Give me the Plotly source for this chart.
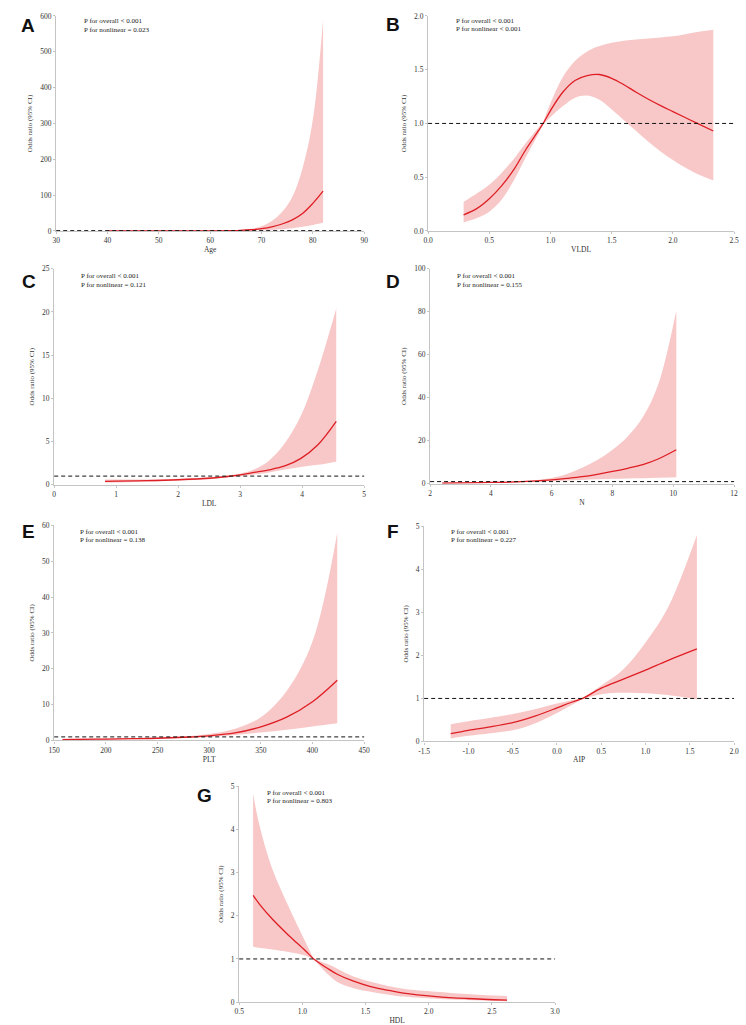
import plotly.graph_objects as go

W, H = 746, 1025

# ---------------- data ----------------
age_x = [40, 44, 48, 52, 56, 60, 62, 64, 66, 68, 70, 72, 74, 76, 78, 80, 82]
age_or = [0.02, 0.03, 0.05, 0.08, 0.15, 0.3, 0.5, 0.9, 1.7, 3.5, 6.5, 11.5, 19.5, 31, 49, 77, 111]
age_hi = [0.6, 0.6, 0.6, 0.7, 0.9, 1.2, 1.8, 2.6, 3.5, 6, 13, 28, 53, 95, 175, 310, 590]
age_lo = [0.002, 0.005, 0.01, 0.02, 0.04, 0.1, 0.15, 0.3, 0.6, 1.2, 2.0, 3.0, 4.5, 7.5, 11.5, 17, 23]

vldl_x = [0.29, 0.4, 0.5, 0.6, 0.7, 0.8, 0.9, 0.94, 1.0, 1.1, 1.2, 1.3, 1.4, 1.5, 1.6, 1.7, 1.8, 1.9, 2.0, 2.1, 2.2, 2.33]
vldl_or = [0.15, 0.21, 0.30, 0.42, 0.57, 0.76, 0.93, 1.0, 1.12, 1.29, 1.40, 1.445, 1.455, 1.42, 1.36, 1.29, 1.225, 1.165, 1.11, 1.055, 1.00, 0.93]
vldl_hi = [0.27, 0.35, 0.43, 0.54, 0.67, 0.82, 0.96, 1.01, 1.19, 1.43, 1.58, 1.67, 1.72, 1.75, 1.77, 1.78, 1.79, 1.80, 1.81, 1.83, 1.85, 1.87]
vldl_lo = [0.08, 0.12, 0.18, 0.29, 0.47, 0.69, 0.90, 0.99, 1.06, 1.16, 1.24, 1.26, 1.22, 1.13, 1.03, 0.93, 0.83, 0.74, 0.66, 0.59, 0.53, 0.47]

ldl_x = [0.82, 1.0, 1.5, 2.0, 2.5, 2.75, 3.0, 3.2, 3.45, 3.72, 3.98, 4.25, 4.55]
ldl_or = [0.4, 0.42, 0.48, 0.58, 0.75, 0.92, 1.13, 1.4, 1.7, 2.17, 3.05, 4.6, 7.34]
ldl_hi = [0.62, 0.62, 0.62, 0.7, 0.88, 1.02, 1.3, 1.7, 2.7, 4.8, 8.0, 13.2, 20.4]
ldl_lo = [0.25, 0.27, 0.36, 0.48, 0.64, 0.8, 0.98, 1.15, 1.4, 1.75, 2.05, 2.3, 2.67]

n_x = [2.4, 3, 4, 5, 6, 6.5, 7, 7.5, 8, 8.5, 9, 9.5, 10.1]
n_or = [0.3, 0.4, 0.6, 0.95, 1.8, 2.5, 3.3, 4.4, 5.7, 7.2, 8.9, 11.5, 15.8]
n_hi = [0.6, 0.7, 0.85, 1.2, 2.7, 4.5, 7.4, 11, 15.8, 22, 31, 46, 80.6]
n_lo = [0.15, 0.22, 0.45, 0.75, 1.25, 1.55, 1.8, 2.05, 2.3, 2.5, 2.6, 2.8, 3.0]

plt_x = [158, 175, 200, 225, 250, 275, 300, 325, 350, 375, 400, 424]
plt_or = [0.25, 0.3, 0.38, 0.5, 0.62, 0.9, 1.3, 2.1, 3.8, 6.5, 10.8, 16.8]
plt_hi = [0.5, 0.52, 0.55, 0.65, 0.8, 1.1, 1.8, 3.3, 6.5, 13.8, 27.6, 58]
plt_lo = [0.1, 0.14, 0.22, 0.33, 0.45, 0.7, 1.0, 1.5, 2.2, 3.0, 3.9, 4.8]

aip_x = [-1.2, -1.0, -0.75, -0.5, -0.25, 0.0, 0.15, 0.29, 0.5, 0.75, 1.0, 1.25, 1.58]
aip_or = [0.18, 0.26, 0.34, 0.44, 0.59, 0.78, 0.9, 1.0, 1.24, 1.45, 1.66, 1.88, 2.15]
aip_hi = [0.4, 0.47, 0.55, 0.64, 0.75, 0.88, 0.95, 1.01, 1.30, 1.68, 2.3, 3.1, 4.8]
aip_lo = [0.07, 0.13, 0.19, 0.26, 0.42, 0.66, 0.83, 0.99, 1.10, 1.13, 1.12, 1.08, 0.98]

hdl_x = [0.61, 0.66, 0.76, 0.89, 1.02, 1.09, 1.2, 1.28, 1.4, 1.54, 1.67, 1.8, 2.06, 2.3, 2.62]
hdl_or = [2.47, 2.27, 1.93, 1.55, 1.2, 1.0, 0.78, 0.64, 0.49, 0.36, 0.28, 0.21, 0.13, 0.085, 0.045]
hdl_hi = [4.82, 4.1, 3.1, 2.22, 1.42, 1.0, 0.88, 0.77, 0.6, 0.47, 0.38, 0.31, 0.24, 0.19, 0.14]
hdl_lo = [1.28, 1.26, 1.22, 1.16, 1.08, 1.0, 0.65, 0.46, 0.33, 0.24, 0.18, 0.13, 0.08, 0.05, 0.02]

# x where the confidence band narrows to a point (None = no pinch)
pinch_x = [None, 0.94, None, None, None, 0.29, 1.09]

panel_letters = ["A", "B", "C", "D", "E", "F", "G"]
x_titles = ["Age", "VLDL", "LDL", "N", "PLT", "AIP", "HDL"]
p_overall = ["P for overall < 0.001"] * 7
p_nonlinear = ["P for nonlinear = 0.023", "P for nonlinear < 0.001", "P for nonlinear = 0.121",
               "P for nonlinear = 0.155", "P for nonlinear = 0.138", "P for nonlinear = 0.227",
               "P for nonlinear = 0.803"]
aip_tickvals = [-1.5, -1.0, -0.5, 0.0, 0.5, 1.0, 1.5, 2.0]
aip_ticktext = ["-1.5", "-1.0", "-0.5", "0.0", "0.5", "1.0", "1.5", "2.0"]

series = [
    (age_x, age_or, age_hi, age_lo),
    (vldl_x, vldl_or, vldl_hi, vldl_lo),
    (ldl_x, ldl_or, ldl_hi, ldl_lo),
    (n_x, n_or, n_hi, n_lo),
    (plt_x, plt_or, plt_hi, plt_lo),
    (aip_x, aip_or, aip_hi, aip_lo),
    (hdl_x, hdl_or, hdl_hi, hdl_lo),
]

# ---------------- layout geometry (pixels) ----------------
# (x0, x1, ytop, ybottom)
boxes = [
    (51, 364, 12, 229),
    (429, 740, 12, 229),
    (49, 364, 267, 485),
    (431, 740, 267, 484),
    (49, 364, 526, 743),
    (425, 740, 527, 744),
    (237, 558, 789, 1007),
]
x_ranges = [(30, 90, 10), (0, 2.5, 0.5), (0, 5, 1), (2, 12, 2), (150, 450, 50), (-1.5, 2.0, 0.5), (0.5, 3.0, 0.5)]
y_ranges = [(0, 600, 100), (0, 2, 0.5), (0, 25, 5), (0, 100, 20), (0, 60, 10), (0, 5, 1), (0, 5, 1)]
x_fmt = ["d", ".1f", "d", "d", "d", ".1f", ".1f"]
y_fmt = ["d", ".1f", "d", "d", "d", "d", "d"]
letter_pos = [(13, 21.5), (384, 21), (14, 280), (384, 280), (14, 532), (385, 532), (192, 799)]
ptext_pos = [(77, 17, 26), (455, 17, 25), (74, 274, 283), (456, 274, 283),
             (73, 533, 541), (450, 533, 541), (263, 796, 804)]

LINE = "rgb(222,30,36)"
BAND = "rgb(248,200,200)"
SERIF = "Liberation Serif"
TXT = "#333"

fig = go.Figure()
layout = dict(
    width=W, height=H, margin=dict(l=0, r=0, t=0, b=0),
    paper_bgcolor="white", plot_bgcolor="white", showlegend=False,
    font=dict(family=SERIF, size=7.5, color=TXT),
)
annotations = []
shapes = []


def px_x(p):
    return p / W


def px_y(p):
    return 1 - p / H


SPL = dict(shape="spline", smoothing=1.0)

for i, (xs, ors, his, los) in enumerate(series):
    n = i + 1
    xa = "x" if n == 1 else f"x{n}"
    ya = "y" if n == 1 else f"y{n}"

    # split the band at the pinch point so each side is smoothed on its own
    if pinch_x[i] is None:
        segs = [(0, len(xs))]
    else:
        k = xs.index(pinch_x[i])
        segs = [(0, k + 1), (k, len(xs))]
    for a, b in segs:
        fig.add_trace(go.Scatter(x=xs[a:b], y=his[a:b], mode="lines", line=dict(width=0, **SPL),
                                 xaxis=xa, yaxis=ya, hoverinfo="skip"))
        fig.add_trace(go.Scatter(x=xs[a:b], y=los[a:b], mode="lines", line=dict(width=0, **SPL),
                                 fill="tonexty", fillcolor=BAND, xaxis=xa, yaxis=ya, hoverinfo="skip"))
    fig.add_trace(go.Scatter(x=xs, y=ors, mode="lines", line=dict(color=LINE, width=1.3, **SPL),
                             xaxis=xa, yaxis=ya))

    x0, x1, yt, yb = boxes[i]
    xr = x_ranges[i]
    yr = y_ranges[i]
    xkey = "xaxis" if n == 1 else f"xaxis{n}"
    ykey = "yaxis" if n == 1 else f"yaxis{n}"
    xax = dict(domain=[px_x(x0), px_x(x1)], anchor=ya, range=[xr[0], xr[1]],
               tickmode="linear", tick0=xr[0], dtick=xr[2], tickformat=x_fmt[i],
               showgrid=False, zeroline=False, showline=True, linecolor="#c4c4c4", linewidth=1.2,
               ticks="outside", ticklen=2, tickcolor="#c4c4c4", tickwidth=1,
               tickfont=dict(family=SERIF, size=7.5, color=TXT),
               title=dict(text=x_titles[i], font=dict(family=SERIF, size=7.5, color=TXT), standoff=2))
    if i == 5:
        xax.update(tickmode="array", tickvals=aip_tickvals, ticktext=aip_ticktext)
    yax = dict(domain=[px_y(yb), px_y(yt)], anchor=xa, range=[yr[0], yr[1]],
               tickmode="linear", tick0=yr[0], dtick=yr[2], tickformat=y_fmt[i],
               showgrid=False, zeroline=False, showline=True, linecolor="#c4c4c4", linewidth=1.2,
               ticks="outside", ticklen=2, tickcolor="#c4c4c4", tickwidth=1,
               tickfont=dict(family=SERIF, size=7.5, color=TXT),
               title=dict(text="Odds ratio (95% CI)", font=dict(family=SERIF, size=7, color=TXT), standoff=6))
    layout[xkey] = xax
    layout[ykey] = yax

    shapes.append(dict(type="line", xref=f"{xa} domain", x0=0, x1=1, yref=ya, y0=1, y1=1,
                       line=dict(color="#111", width=1, dash="4px,3px"), layer="above"))

    lx, ly = letter_pos[i]
    annotations.append(dict(text=f"<b>{panel_letters[i]}</b>", xref="paper", yref="paper",
                            x=px_x(lx), y=px_y(ly), xanchor="left", yanchor="middle", showarrow=False,
                            font=dict(family="Liberation Sans", size=19, color="#111")))
    tx, t1, t2 = ptext_pos[i]
    annotations.append(dict(text=p_overall[i], xref="paper", yref="paper", x=px_x(tx), y=px_y(t1),
                            xanchor="left", yanchor="middle", showarrow=False,
                            font=dict(family=SERIF, size=7, color="#222")))
    annotations.append(dict(text=p_nonlinear[i], xref="paper", yref="paper", x=px_x(tx), y=px_y(t2),
                            xanchor="left", yanchor="middle", showarrow=False,
                            font=dict(family=SERIF, size=7, color="#222")))

layout["annotations"] = annotations
layout["shapes"] = shapes
fig.update_layout(**layout)
fig.write_html("out.html", config={"displayModeBar": False},
               post_script="document.body.style.margin='0';document.body.style.padding='0';"
                           "document.body.style.overflow='hidden';")
